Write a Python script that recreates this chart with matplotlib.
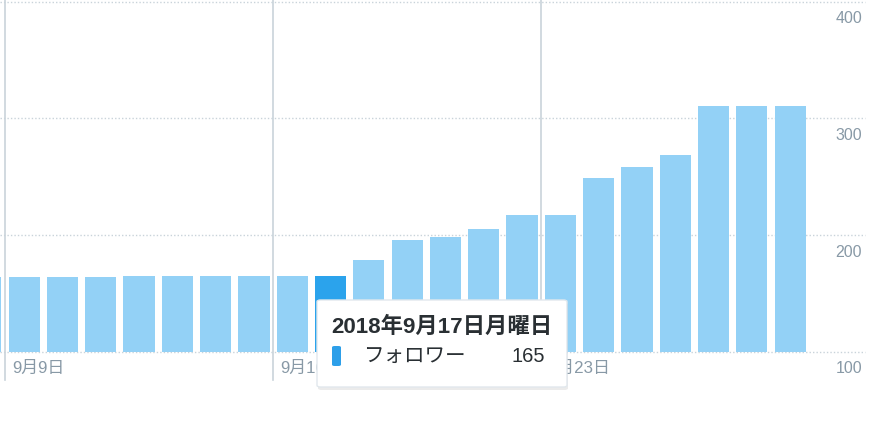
import matplotlib
matplotlib.use("Agg")
import matplotlib.pyplot as plt
from matplotlib.patches import FancyBboxPatch
import numpy as np

plt.rcParams['font.family'] = ['Liberation Sans', 'Noto Sans CJK JP', 'DejaVu Sans']

days = [8, 9, 10, 11, 12, 13, 14, 15, 16, 17, 18, 19, 20, 21, 22, 23, 24, 25, 26, 27, 28, 29]
followers = [164, 164, 164, 164, 165, 165, 165, 165, 165, 165, 179, 196, 198, 205,
             217, 217, 249, 258, 269, 311, 311, 311]
tick_days = [9, 16, 23]
tick_labels = ['9月9日', '9月16日', '9月23日']
y_ticks = [100, 200, 300, 400]
highlight_day = 17
tooltip_title = '2018年9月17日月曜日'
tooltip_series = 'フォロワー'

W, H = 890, 421
fig = plt.figure(figsize=(W / 100, H / 100), dpi=100)
ax = fig.add_axes([0, 0, 1, 1])
ax.set_axis_off()

# pixel mapping
slot = 38.3
x0 = 5.0  # left edge of slot for day 9
def px_to_x(px):
    return (px - x0) / slot - 0.5 + 9
y100 = 351.7
ppu = 1.1667
def py_to_y(py):
    return 100 + (y100 - py) / ppu

ax.set_xlim(px_to_x(0), px_to_x(W))
ax.set_ylim(py_to_y(H), py_to_y(0))

light = '#93d1f6'
dark = '#2ba3ec'
grid_c = '#c9d3da'
label_c = '#8899a6'

# gridlines
for v in y_ticks:
    ax.plot([px_to_x(0), px_to_x(865)], [v, v], color=grid_c, lw=1.0,
            linestyle=(0, (1, 1.5)), zorder=1)
    ax.text(px_to_x(862), v - 17 / ppu, str(v), ha='right', va='center',
            fontsize=11.5, color=label_c, zorder=2)

# vertical day markers
for d, lab in zip(tick_days, tick_labels):
    xl = d - 0.5
    ax.plot([xl, xl], [py_to_y(0), py_to_y(380)], color=grid_c, lw=1.2, zorder=1)
    ax.text(xl + 7 / slot, py_to_y(368), lab, ha='left', va='center',
            fontsize=12.2, color=label_c, zorder=2)

colors = [dark if d == highlight_day else light for d in days]
heights = [v - 100 for v in followers]
ax.bar(days, heights, bottom=100, width=0.815, color=colors, zorder=3, linewidth=0)

# tooltip (figure pixel coordinates)
def fx(px):
    return px / W
def fy(py):
    return 1 - py / H

bx0, by0, bx1, by1 = 317, 300, 567, 387
shadow = FancyBboxPatch((fx(bx0 + 1), fy(by1 + 3)), fx(bx1 - bx0), (by1 - by0) / H,
                        boxstyle='round,pad=0,rounding_size=0.004',
                        transform=fig.transFigure, facecolor='#000000', alpha=0.08,
                        edgecolor='none', zorder=10)
fig.patches.append(shadow)
box = FancyBboxPatch((fx(bx0), fy(by1)), fx(bx1 - bx0), (by1 - by0) / H,
                     boxstyle='round,pad=0,rounding_size=0.004',
                     transform=fig.transFigure, facecolor='white',
                     edgecolor='#e1e8ed', lw=1.0, zorder=11)
fig.patches.append(box)

idx = days.index(highlight_day)
fig.text(fx(331), fy(327), tooltip_title, ha='left', va='center', fontsize=16.1,
         fontweight='bold', color='#292f33', zorder=12)
marker = FancyBboxPatch((fx(332), fy(366)), fx(9), 20 / H,
                        boxstyle='round,pad=0,rounding_size=0.003',
                        transform=fig.transFigure, facecolor='#2d9fe9',
                        edgecolor='none', zorder=12)
fig.patches.append(marker)
fig.text(fx(363), fy(357), tooltip_series, ha='left', va='center', fontsize=14.8,
         color='#292f33', zorder=12)
fig.text(fx(545), fy(357), str(followers[idx]), ha='right', va='center', fontsize=14.5,
         color='#292f33', zorder=12)

fig.savefig('out.png', dpi=100, facecolor='white')
